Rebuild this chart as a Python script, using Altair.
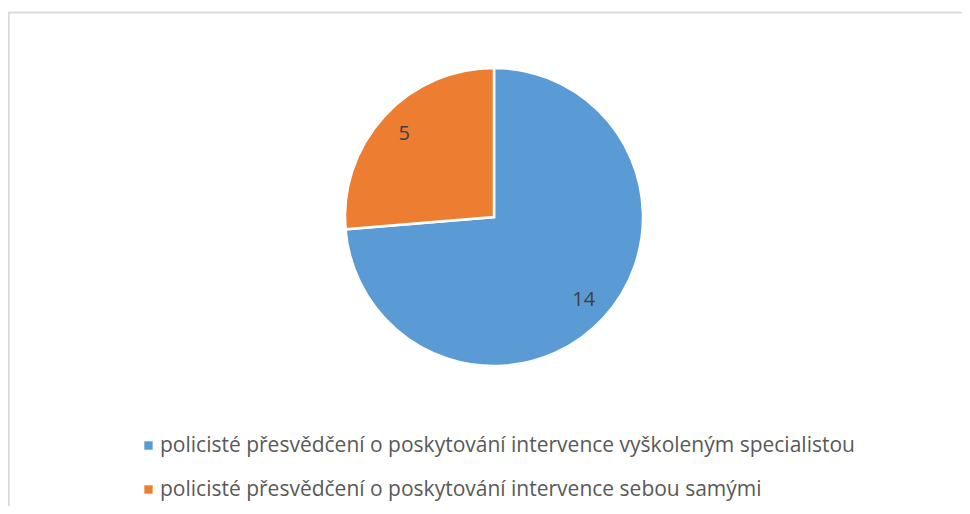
import altair as alt
import pandas as pd

categories = [
    "policisté přesvědčení o poskytování intervence vyškoleným specialistou",
    "policisté přesvědčení o poskytování intervence sebou samými",
]
values = [14, 5]
colors = ["#5B9BD5", "#ED7D31"]

df = pd.DataFrame({"kategorie": categories, "pocet": values, "poradi": [0, 1]})

W, H = 954, 498
CX, CY, R = 486, 209, 149

base = alt.Chart(df).encode(
    theta=alt.Theta("pocet:Q", stack=True),
    order=alt.Order("poradi:Q"),
)

pie = base.mark_arc(outerRadius=R, stroke="white", strokeWidth=2.5).encode(
    x=alt.value(CX),
    y=alt.value(CY),
    color=alt.Color(
        "kategorie:N",
        scale=alt.Scale(domain=categories, range=colors),
        sort=categories,
        legend=alt.Legend(
            title=None,
            orient="none",
            legendX=130,
            legendY=427,
            direction="vertical",
            symbolType="square",
            symbolSize=70,
            symbolStrokeWidth=0,
            labelFontSize=21,
            labelFont="Open Sans",
            labelColor="#595959",
            labelLimit=900,
            rowPadding=22,
            labelOffset=1,
        ),
    ),
)

labels = base.mark_text(font="Open Sans", fontSize=20, color="#404040").encode(
    x=alt.value(CX),
    y=alt.value(CY),
    radius=alt.value(122),
    text="pocet:Q",
)

border_top = alt.Chart(df).mark_rule(color="#d9d9d9", strokeWidth=1.5).encode(
    x=alt.value(0.75), x2=alt.value(W), y=alt.value(4.5)
)
border_left = alt.Chart(df).mark_rule(color="#d9d9d9", strokeWidth=1.5).encode(
    x=alt.value(0.75), y=alt.value(4.5), y2=alt.value(H)
)

chart = (
    alt.layer(border_top, border_left, pie, labels)
    .properties(width=W, height=H, padding=0, autosize="none")
    .configure_view(stroke=None)
)

chart.save("out.html", embed_options={"renderer": "svg", "actions": False})
